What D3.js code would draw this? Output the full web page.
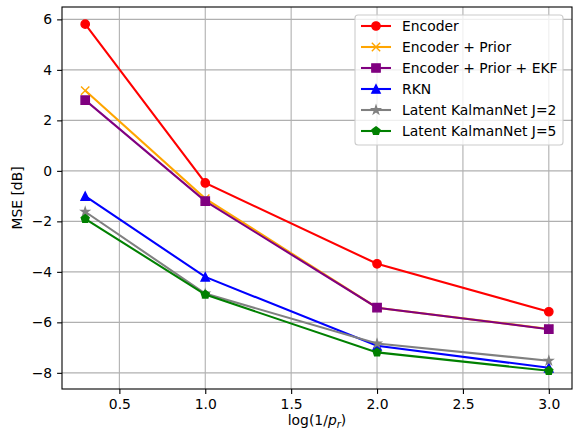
<!DOCTYPE html>
<html>
<head>
<meta charset="utf-8">
<script src="https://cdn.jsdelivr.net/npm/d3@7"></script>
<style>
  body { margin: 0; background: #fff; }
  svg { font-family: "DejaVu Sans", sans-serif; }
</style>
</head>
<body>
<svg></svg>
<script>
var width = 573;
var height = 432;

// data
var xVals = [Math.log10(2), 1, 2, 3];
var encoder = [5.81, -0.48, -3.68, -5.58];
var encoderPrior = [3.18, -1.1, -5.42, -6.26];
var encoderPriorEkf = [2.8, -1.2, -5.42, -6.27];
var rkn = [-1.0, -4.2, -6.93, -7.8];
var latentJ2 = [-1.62, -4.86, -6.84, -7.52];
var latentJ5 = [-1.9, -4.9, -7.19, -7.92];
var xTicks = [0.5, 1.0, 1.5, 2.0, 2.5, 3.0];
var yTicks = [-8, -6, -4, -2, 0, 2, 4, 6];

var series = [
    {name: "Encoder", values: encoder, color: "#ff0000", marker: "circle"},
    {name: "Encoder + Prior", values: encoderPrior, color: "#ffa500", marker: "x"},
    {name: "Encoder + Prior + EKF", values: encoderPriorEkf, color: "#800080", marker: "square"},
    {name: "RKN", values: rkn, color: "#0000ff", marker: "triangle"},
    {name: "Latent KalmanNet J=2", values: latentJ2, color: "#808080", marker: "star"},
    {name: "Latent KalmanNet J=5", values: latentJ5, color: "#008000", marker: "pentagon"}
];

var pLeft = 62, pRight = 572, pTop = 7, pBottom = 389;
var fs = 13.9;

var svg = d3.select("svg")
    .attr("width", width)
    .attr("height", height)

var x = d3.scaleLinear().domain([0.166, 3.135]).range([pLeft, pRight]);
var y = d3.scaleLinear().domain([-8.64, 6.49]).range([pBottom, pTop]);

// grid
svg.append("g").selectAll("line")
    .data(xTicks).enter().append("line")
    .attr("x1", d => x(d)).attr("x2", d => x(d))
    .attr("y1", pTop).attr("y2", pBottom)
    .attr("stroke", "#b0b0b0").attr("stroke-width", 1.1);
svg.append("g").selectAll("line")
    .data(yTicks).enter().append("line")
    .attr("x1", pLeft).attr("x2", pRight)
    .attr("y1", d => y(d)).attr("y2", d => y(d))
    .attr("stroke", "#b0b0b0").attr("stroke-width", 1.1);

// axes
var xAxis = d3.axisBottom(x).tickValues(xTicks).tickFormat(d3.format(".1f"))
    .tickSizeInner(4.9).tickSizeOuter(0).tickPadding(4.9);
var yAxis = d3.axisLeft(y).tickValues(yTicks).tickFormat(d3.format("d"))
    .tickSizeInner(4.9).tickSizeOuter(0).tickPadding(4.9);

var gx = svg.append("g").attr("transform", "translate(0," + pBottom + ")").call(xAxis);
var gy = svg.append("g").attr("transform", "translate(" + pLeft + ",0)").call(yAxis);
[gx, gy].forEach(function(g) {
    g.select(".domain").remove();
    g.selectAll("line").attr("stroke", "#000").attr("stroke-width", 1.1);
    g.selectAll("text").attr("fill", "#000")
        .style("font-family", "DejaVu Sans").style("font-size", fs + "px");
});

// frame
svg.append("rect")
    .attr("x", pLeft).attr("y", pTop)
    .attr("width", pRight - pLeft).attr("height", pBottom - pTop)
    .attr("fill", "none").attr("stroke", "#000").attr("stroke-width", 1.1);

// markers
var ms = 8.33;
function markerPath(type) {
    var r = ms / 2;
    var p = d3.path();
    if (type === "circle") {
        p.arc(0, 0, r, 0, 2 * Math.PI);
    } else if (type === "square") {
        p.rect(-r, -r, 2 * r, 2 * r);
    } else if (type === "triangle") {
        p.moveTo(0, -r); p.lineTo(r, r); p.lineTo(-r, r); p.closePath();
    } else if (type === "x") {
        p.moveTo(-r, -r); p.lineTo(r, r); p.moveTo(-r, r); p.lineTo(r, -r);
    } else if (type === "star" || type === "pentagon") {
        var n = type === "star" ? 10 : 5;
        for (var i = 0; i < n; i++) {
            var a = -Math.PI / 2 + i * 2 * Math.PI / n;
            var rr = (type === "star" && i % 2 === 1) ? r * 0.381966 : r;
            if (i === 0) p.moveTo(rr * Math.cos(a), rr * Math.sin(a));
            else p.lineTo(rr * Math.cos(a), rr * Math.sin(a));
        }
        p.closePath();
    }
    return p.toString();
}

var line = d3.line().x((d, i) => x(xVals[i])).y(d => y(d));

var sg = svg.append("g").selectAll("g")
    .data(series).enter().append("g");

sg.append("path")
    .attr("d", d => line(d.values))
    .attr("fill", "none")
    .attr("stroke", d => d.color)
    .attr("stroke-width", 2.08);

sg.each(function(s) {
    d3.select(this).selectAll("path.m")
        .data(s.values).enter().append("path")
        .attr("class", "m")
        .attr("transform", (d, i) => "translate(" + x(xVals[i]) + "," + y(d) + ")")
        .attr("d", markerPath(s.marker))
        .attr("fill", s.marker === "x" ? "none" : s.color)
        .attr("stroke", s.color)
        .attr("stroke-width", 1.39)
        .attr("stroke-linejoin", "miter");
});

// legend
var lg = svg.append("g");
lg.append("rect")
    .attr("x", 355).attr("y", 15)
    .attr("width", 208).attr("height", 130)
    .attr("rx", 3)
    .attr("fill", "#fff").attr("fill-opacity", 0.8)
    .attr("stroke", "#cccccc").attr("stroke-width", 1.1);

var item = lg.selectAll("g.item")
    .data(series).enter().append("g")
    .attr("class", "item")
    .attr("transform", (d, i) => "translate(0," + (26 + i * 21) + ")");

item.append("line")
    .attr("x1", 361).attr("x2", 391)
    .attr("stroke", d => d.color).attr("stroke-width", 2.08);
item.append("path")
    .attr("transform", "translate(376,0)")
    .attr("d", d => markerPath(d.marker))
    .attr("fill", d => d.marker === "x" ? "none" : d.color)
    .attr("stroke", d => d.color)
    .attr("stroke-width", 1.39);
item.append("text")
    .attr("x", 402).attr("dy", "0.35em")
    .style("font-size", fs + "px")
    .text(d => d.name);

// axis labels
svg.append("text")
    .attr("transform", "translate(22," + ((pTop + pBottom) / 2) + ") rotate(-90)")
    .attr("text-anchor", "middle")
    .style("font-size", fs + "px")
    .text("MSE [dB]");

var xl = svg.append("text")
    .attr("x", (pLeft + pRight) / 2).attr("y", 425)
    .attr("text-anchor", "middle")
    .style("font-size", fs + "px");
xl.append("tspan").text("log(1/");
xl.append("tspan").style("font-style", "italic").text("p");
xl.append("tspan").attr("dy", 3).style("font-style", "italic").style("font-size", "10px").text("r");
xl.append("tspan").attr("dy", -3).text(")");
</script>
</body>
</html>
